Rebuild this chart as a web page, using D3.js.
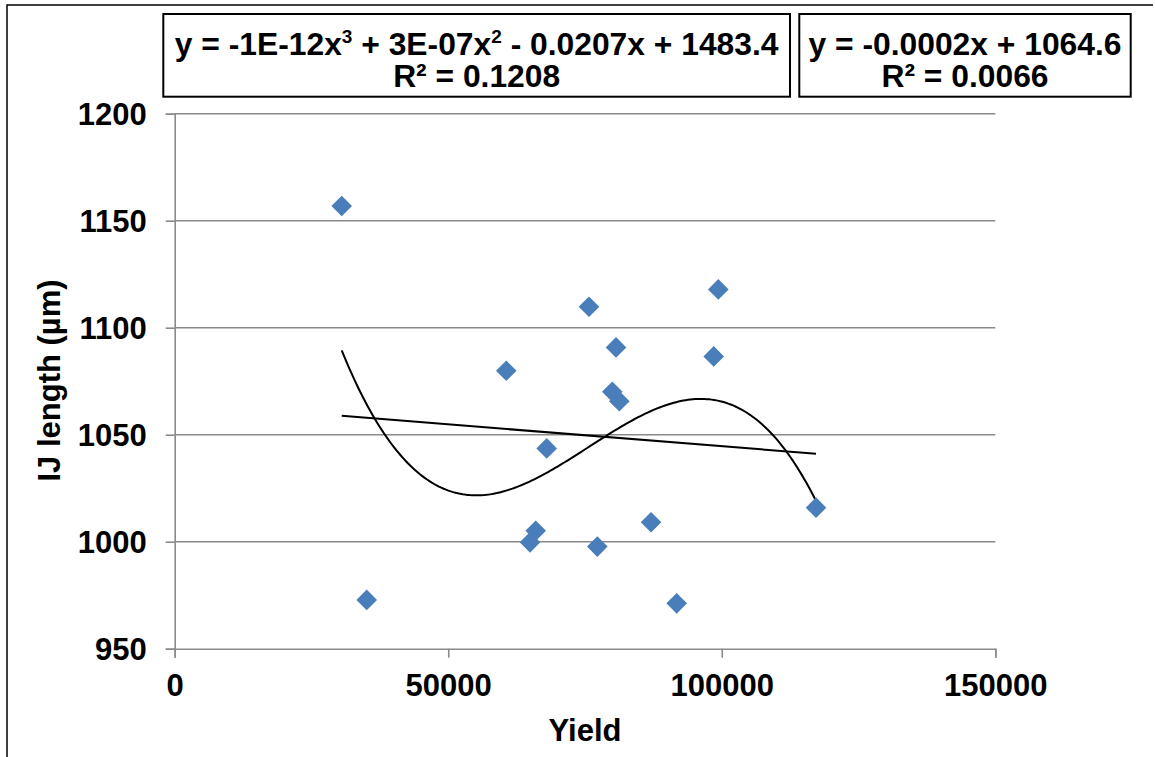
<!DOCTYPE html>
<html><head><meta charset="utf-8">
<script src="https://cdn.jsdelivr.net/npm/d3@7"></script>
<style>
html,body{margin:0;padding:0;background:#fff;}
text{font-family:"Liberation Sans",Arial,sans-serif;font-weight:bold;fill:#000;}
</style></head>
<body><svg id="c" width="1155" height="757"></svg>
<script>
// ---- data ----
const yieldValues = [30530, 35100, 60610, 64950, 65990, 68000, 75730, 77250, 79990, 80670, 81270, 87070, 91760, 98530, 99370, 117230];
const ijLength    = [1156.9, 972.8, 1079.9, 999.7, 1005.1, 1043.6, 1109.8, 997.7, 1070.1, 1090.8, 1065.6, 1009.1, 971.2, 1086.6, 1117.9, 1015.9];
const xTicks = [0, 50000, 100000, 150000];
const yTicks = [950, 1000, 1050, 1100, 1150, 1200];
const xTitle = "Yield";
const yTitle = "IJ length (µm)";
const polyLabel = ["y = -1E-12x", "3", " + 3E-07x", "2", " - 0.0207x + 1483.4"];
const polyR2 = "R² = 0.1208";
const linLabel = "y = -0.0002x + 1064.6";
const linR2 = "R² = 0.0066";

const svg = d3.select("#c");
const L = 174.7, R = 995.3, T = 113.7, B = 648.7;
const x = d3.scaleLinear().domain([0, 150000]).range([L, R]);
const y = d3.scaleLinear().domain([950, 1200]).range([B, T]);
const grid = "#8a8a8a";

// outer frame (left + top)
svg.append("path").attr("d", `M7,757 L7,5 L1153,5`).attr("fill","none").attr("stroke","#000").attr("stroke-width",1.5);

// gridlines
svg.append("g").selectAll("line").data(yTicks.slice(1)).join("line")
  .attr("x1", L).attr("x2", R).attr("y1", d=>y(d)).attr("y2", d=>y(d))
  .attr("stroke", grid).attr("stroke-width", 1.6);

// axes
const yAxis = svg.append("g").attr("transform", `translate(${L},0)`)
  .call(d3.axisLeft(y).tickValues(yTicks).tickSize(9).tickPadding(19).tickFormat(d3.format("d")));
const xAxis = svg.append("g").attr("transform", `translate(0,${B})`)
  .call(d3.axisBottom(x).tickValues(xTicks).tickSize(9).tickPadding(16).tickFormat(d3.format("d")));
[yAxis, xAxis].forEach(g => {
  g.select(".domain").attr("stroke", grid).attr("stroke-width", 1.6);
  g.selectAll(".tick line").attr("stroke", grid).attr("stroke-width", 1.6);
  g.selectAll("text").attr("font-size", 31).attr("font-family", '"Liberation Sans",Arial,sans-serif').attr("font-weight","bold").attr("fill","#000");
});
yAxis.selectAll(".tick text").attr("dy", "0.35em");
xAxis.selectAll(".tick text").attr("dy", "0.72em");

// titles
svg.append("text").attr("x", 585).attr("y", 741).attr("text-anchor","middle").attr("font-size",31).text(xTitle);
svg.append("text").attr("transform","translate(60,380.5) rotate(-90)").attr("text-anchor","middle").attr("font-size",31).text(yTitle);

// trendlines (least squares from the data)
const n = yieldValues.length;
const mx = d3.mean(yieldValues), my = d3.mean(ijLength);
let sxy = 0, sxx = 0;
for (let i=0;i<n;i++){ sxy += (yieldValues[i]-mx)*(ijLength[i]-my); sxx += (yieldValues[i]-mx)**2; }
const slope = sxy/sxx, icpt = my - slope*mx;
const xmin = d3.min(yieldValues), xmax = d3.max(yieldValues);

// cubic fit with scaled x
function cubicFit(xs, ys){
  const s = 100000;
  const A = Array.from({length:4},()=>Array(5).fill(0));
  for (let i=0;i<xs.length;i++){
    const t = xs[i]/s;
    const p = [1,t,t*t,t*t*t];
    for (let r=0;r<4;r++){ for (let c=0;c<4;c++) A[r][c]+=p[r]*p[c]; A[r][4]+=p[r]*ys[i]; }
  }
  for (let k=0;k<4;k++){
    let piv=k; for (let r=k+1;r<4;r++) if (Math.abs(A[r][k])>Math.abs(A[piv][k])) piv=r;
    [A[k],A[piv]]=[A[piv],A[k]];
    for (let r=0;r<4;r++){ if(r===k) continue; const f=A[r][k]/A[k][k]; for(let c=k;c<5;c++) A[r][c]-=f*A[k][c]; }
  }
  const co = A.map((row,i)=>row[4]/row[i]);
  return v => { const t=v/s; return co[0]+co[1]*t+co[2]*t*t+co[3]*t*t*t; };
}
const cubic = cubicFit(yieldValues, ijLength);
const samples = d3.range(0, 201).map(i => xmin + (xmax-xmin)*i/200);
const line = d3.line().x(d=>x(d[0])).y(d=>y(d[1]));
svg.append("path").attr("d", line(samples.map(v=>[v, cubic(v)]))).attr("fill","none").attr("stroke","#000").attr("stroke-width",2);
svg.append("path").attr("d", line([[xmin, icpt+slope*xmin],[xmax, icpt+slope*xmax]])).attr("fill","none").attr("stroke","#000").attr("stroke-width",2);

// markers
const r = 10.3;
svg.append("g").selectAll("path").data(yieldValues.map((v,i)=>[v, ijLength[i]])).join("path")
  .attr("transform", d=>`translate(${x(d[0])},${y(d[1])})`)
  .attr("d", `M0,${-r}L${r},0L0,${r}L${-r},0Z`)
  .attr("fill", "#4a7ebb");

// label boxes
function box(x0, x1, lines){
  svg.append("rect").attr("x", x0).attr("y", 14).attr("width", x1-x0).attr("height", 82.7)
    .attr("fill","#fff").attr("stroke","#000").attr("stroke-width",2);
  const cx = (x0+x1)/2;
  const t1 = svg.append("text").attr("x", cx).attr("y", 55).attr("text-anchor","middle").attr("font-size",31.8);
  lines[0].forEach((s,i)=>{
    const ts = t1.append("tspan").text(s);
    if (i%2===1) ts.attr("font-size", 19).attr("dy", -12);
    else if (i>0) ts.attr("dy", 12);
  });
  svg.append("text").attr("x", cx).attr("y", 87).attr("text-anchor","middle").attr("font-size",31.8).text(lines[1]);
}
box(163.3, 790, [polyLabel, polyR2]);
box(799.3, 1130.7, [[linLabel], linR2]);
</script></body></html>
